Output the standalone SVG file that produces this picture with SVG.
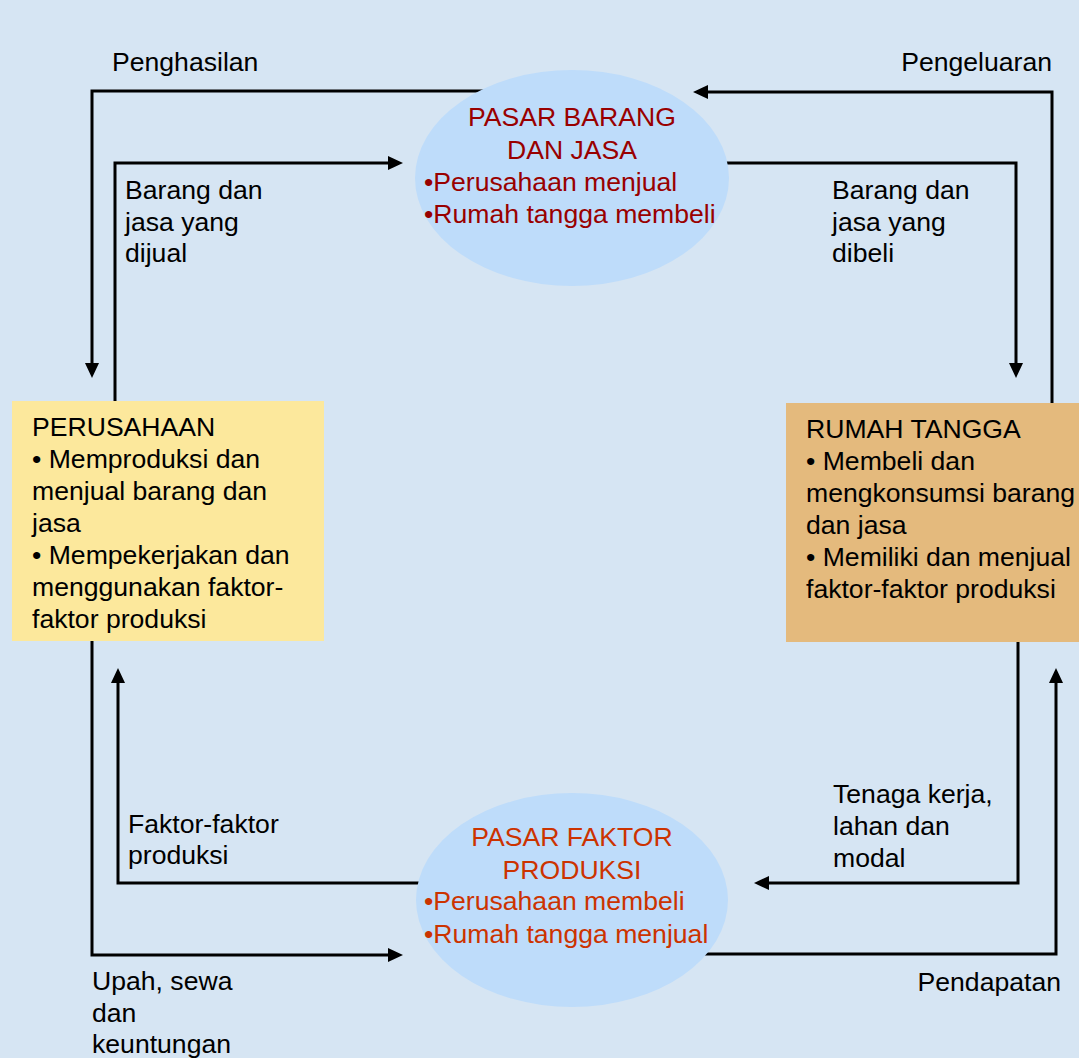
<svg xmlns="http://www.w3.org/2000/svg" width="1079" height="1058" viewBox="0 0 1079 1058">
<defs>
<style>
text{font-family:"Liberation Sans",Arial,sans-serif;font-size:26.6px;fill:#000}
.red{fill:#990000}
.org{fill:#cc3300}
.c{text-anchor:middle}
.e{text-anchor:end}
.ln{fill:none;stroke:#000;stroke-width:3;marker-end:url(#ah)}
.ell{fill:#bedcfa}
</style>
<marker id="ah" viewBox="0 0 15 14" refX="11" refY="7" markerWidth="15" markerHeight="14" markerUnits="userSpaceOnUse" orient="auto">
<path d="M0,0 L15,7 L0,14 z" fill="#000"/>
</marker>
</defs>
<rect x="0" y="0" width="1079" height="1058" fill="#d6e5f3"/>
<g id="connectors">
<path class="ln" d="M500 91 H92 V374"/>
<path class="ln" d="M115 401 V163 H399"/>
<path class="ln" d="M1052 403 V92 H697"/>
<path class="ln" d="M690 163 H1016 V374"/>
<path class="ln" d="M92 641 V955 H399"/>
<path class="ln" d="M450 883 H118 V672"/>
<path class="ln" d="M1018 642 V883 H758"/>
<path class="ln" d="M690 954 H1056 V672"/>
</g>
<g id="labels">
<text x="112" y="71">Penghasilan</text>
<text x="1052" y="71" class="e">Pengeluaran</text>
<text x="125" y="199">Barang dan</text>
<text x="125" y="231">jasa yang</text>
<text x="125" y="262">dijual</text>
<text x="832" y="199">Barang dan</text>
<text x="832" y="231">jasa yang</text>
<text x="832" y="262">dibeli</text>
<text x="128" y="833">Faktor-faktor</text>
<text x="128" y="864">produksi</text>
<text x="833" y="803">Tenaga kerja,</text>
<text x="833" y="835">lahan dan</text>
<text x="833" y="867">modal</text>
<text x="92" y="990">Upah, sewa</text>
<text x="92" y="1022">dan</text>
<text x="92" y="1053">keuntungan</text>
<text x="1061" y="991" class="e">Pendapatan</text>
</g>
<g id="pasar-barang">
<ellipse class="ell" cx="572" cy="178" rx="157" ry="108"/>
<text x="572" y="126" class="c red">PASAR BARANG</text>
<text x="572" y="159" class="c red">DAN JASA</text>
<text x="424" y="191" class="red">•Perusahaan menjual</text>
<text x="424" y="223" class="red">•Rumah tangga membeli</text>
</g>
<g id="pasar-faktor">
<ellipse class="ell" cx="572" cy="900" rx="156" ry="107"/>
<text x="572" y="846" class="c org">PASAR FAKTOR</text>
<text x="572" y="879" class="c org">PRODUKSI</text>
<text x="424" y="910" class="org">•Perusahaan membeli</text>
<text x="424" y="943" class="org">•Rumah tangga menjual</text>
</g>
<g id="perusahaan">
<rect x="12" y="401" width="312" height="240" fill="#fce89c"/>
<text x="32" y="436">PERUSAHAAN</text>
<text x="32" y="468">• Memproduksi dan</text>
<text x="32" y="500">menjual barang dan</text>
<text x="32" y="532">jasa</text>
<text x="32" y="564">• Mempekerjakan dan</text>
<text x="32" y="596">menggunakan faktor-</text>
<text x="32" y="628">faktor produksi</text>
</g>
<g id="rumah-tangga">
<rect x="786" y="403" width="293" height="239" fill="#e4ba7d"/>
<text x="806" y="438">RUMAH TANGGA</text>
<text x="806" y="470">• Membeli dan</text>
<text x="806" y="502">mengkonsumsi barang</text>
<text x="806" y="534">dan jasa</text>
<text x="806" y="566">• Memiliki dan menjual</text>
<text x="806" y="598">faktor-faktor produksi</text>
</g>
</svg>
